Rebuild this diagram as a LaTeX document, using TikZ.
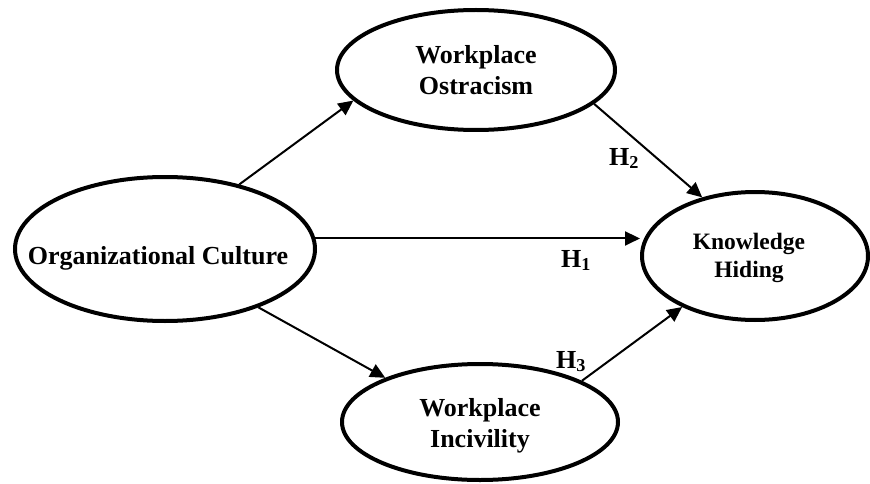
\documentclass[tikz,border=0pt]{standalone}
\usepackage{fontspec}
\setmainfont{Liberation Serif}
\usetikzlibrary{shapes.geometric,arrows.meta}

\tikzset{every picture/.style={line width=0.75pt}}
\tikzset{
  latent/.style={ellipse, draw, line width=4pt, inner sep=0pt},
  link/.style={line width=2pt, -{Triangle[length=15pt,width=14pt]}},
  vartext/.style={font=\bfseries\fontsize{26}{31}\selectfont, align=center, inner sep=0.75pt},
  hyptext/.style={font=\bfseries\fontsize{26}{31}\selectfont, anchor=base west, inner sep=0.75pt}
}

\begin{document}
\begin{tikzpicture}[x=1pt,y=1pt,yscale=-1,xscale=1]
\useasboundingbox (0,0) rectangle (870,484);

%Shape: Ellipse [id:oc]
\node [latent, minimum width=300pt, minimum height=144pt] (oc) at (165,249) {};
%Shape: Ellipse [id:wo]
\node [latent, minimum width=278pt, minimum height=120pt] (wo) at (476,70) {};
%Shape: Ellipse [id:kh]
\node [latent, minimum width=226pt, minimum height=128pt] (kh) at (755,256) {};
%Shape: Ellipse [id:wi]
\node [latent, minimum width=276pt, minimum height=116pt] (wi) at (480,422) {};

%Straight Lines [id:oc-wo]
\draw [link] (oc.41.3) -- (wo.194);
%Straight Lines [id:wo-kh]
\draw [link] (wo.344) -- (kh.132);
%Straight Lines [id:oc-kh]
\draw [link] (oc.4.6) -- (oc.4.6 -| kh.west);
%Straight Lines [id:oc-wi]
\draw [link] (oc.-32) -- (wi.155.5);
%Straight Lines [id:wi-kh]
\draw [link] (wi.22.4) -- (kh.215.8);

% Text Node
\node [vartext] (octext) at (158,258) {Organizational Culture};
% Text Node
\node [vartext] (wotext) at (476,70) {Workplace\\Ostracism};
% Text Node
\node [vartext, font=\bfseries\fontsize{23.5}{28}\selectfont] (khtext) at (749,258) {Knowledge\\Hiding};
% Text Node
\node [vartext] (witext) at (480,426) {Workplace\\Incivility};
% Text Node
\node [hyptext] (htwo) at (608,165) {H\textsubscript{2}};
% Text Node
\node [hyptext] (hone) at (560,267) {H\textsubscript{1}};
% Text Node
\node [hyptext] (hthree) at (555,368) {H\textsubscript{3}};

\end{tikzpicture}
\end{document}
